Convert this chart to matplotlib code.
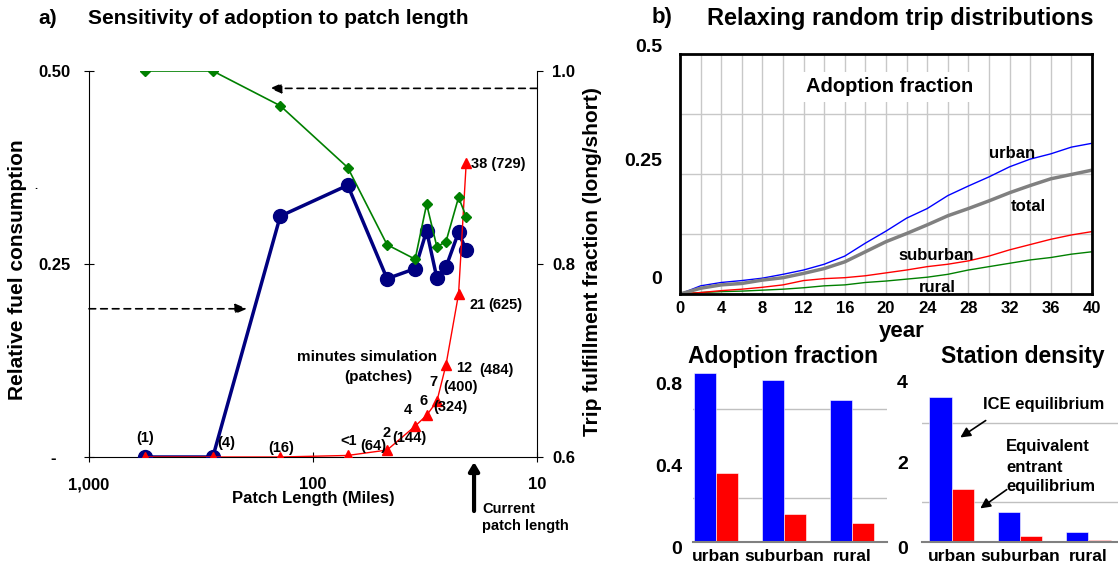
import matplotlib
matplotlib.use("Agg")
import matplotlib.pyplot as plt
from matplotlib.ticker import NullLocator
from matplotlib.transforms import ScaledTranslation

plt.rcParams["font.family"] = ["Liberation Sans", "DejaVu Sans"]
plt.rcParams["font.weight"] = "bold"

W, H = 1118, 569

# ---- panel a data ----
patch_length = [560, 280, 140, 70, 46.7, 35, 31.1, 28, 25.5, 22.4, 20.7]
fuel_consumption = [0, 0, 0.312, 0.352, 0.231, 0.244, 0.293, 0.232, 0.246, 0.291, 0.268]
trip_fulfillment = [1.0, 1.0, 0.964, 0.90, 0.820, 0.805, 0.862, 0.818, 0.823, 0.869, 0.849]
sim_minutes = [0, 0, 0, 0.2, 0.9, 4.0, 5.4, 7.2, 11.9, 21.1, 38.1]

# ---- panel b data ----
years = list(range(0, 41, 2))
urban = [0, 0.017, 0.024, 0.028, 0.033, 0.041, 0.050, 0.062, 0.079, 0.106, 0.131,
         0.158, 0.178, 0.205, 0.225, 0.244, 0.265, 0.281, 0.292, 0.306, 0.314]
total = [0, 0.012, 0.019, 0.022, 0.029, 0.034, 0.043, 0.053, 0.067, 0.088, 0.109,
         0.126, 0.144, 0.163, 0.178, 0.194, 0.211, 0.226, 0.240, 0.249, 0.258]
suburban = [0, 0.003, 0.007, 0.010, 0.014, 0.019, 0.028, 0.032, 0.034, 0.038, 0.044,
            0.050, 0.057, 0.062, 0.069, 0.079, 0.092, 0.103, 0.114, 0.123, 0.130]
rural = [0, 0.003, 0.005, 0.006, 0.008, 0.010, 0.013, 0.017, 0.019, 0.024, 0.027,
         0.031, 0.035, 0.041, 0.050, 0.057, 0.064, 0.071, 0.076, 0.083, 0.088]

regions = ["urban", "suburban", "rural"]
adoption_ice = [0.76, 0.728, 0.638]
adoption_entrant = [0.31, 0.126, 0.087]
density_ice = [3.67, 0.76, 0.25]
density_entrant = [1.34, 0.15, 0.04]

fig = plt.figure(figsize=(W / 100, H / 100), dpi=100)


def px_axes(l, t, r, b):
    return fig.add_axes([l / W, 1 - b / H, (r - l) / W, (b - t) / H])


def ftext(x, y, s, **kw):
    return fig.text(x / W, 1 - y / H, s, **kw)


def shift_labels(labels, shifts):
    # shifts in pixels, positive = down
    for lab, s in zip(labels, shifts):
        lab.set_transform(lab.get_transform() + ScaledTranslation(0, -s / 100, fig.dpi_scale_trans))


# ================= panel a =================
ax = px_axes(89, 71, 537, 457)
ax.set_xscale("log")
ax.set_xlim(1000, 10)
ax.set_ylim(0, 0.5)
ax.xaxis.set_minor_locator(NullLocator())
ax.set_xticks([1000, 100, 10], ["1,000", "100", "10"])
ax.set_yticks([0, 0.25, 0.5], ["-   ", "0.25", "0.50"])
ax.tick_params(axis="y", direction="inout", length=7, pad=10, labelsize=12)
ax.tick_params(axis="x", direction="inout", length=7, pad=11, labelsize=12)
for s in ["top", "right"]:
    ax.spines[s].set_visible(False)

ax2 = ax.twinx()
ax2.set_ylim(0.6, 1.0)
ax2.set_yticks([0.6, 0.8, 1.0], ["0.6", "0.8", "1.0"])
ax2.tick_params(axis="y", direction="out", length=4, pad=7, labelsize=12)
for s in ["top", "left", "bottom"]:
    ax2.spines[s].set_visible(False)

ax.plot(patch_length, fuel_consumption, color="#000080", lw=2.5, marker="o", ms=10, zorder=3)
ax.plot(patch_length, [m / 100 for m in sim_minutes], color="red", lw=1, marker="^", ms=7, zorder=4)
ax2.plot(patch_length, trip_fulfillment, color="#008000", lw=1.2, marker="D", ms=5)

# dashed arrows pointing at the axes
ax2.annotate("", xy=(156, 0.982), xytext=(1.0, 0.982),
             textcoords=ax2.get_yaxis_transform(),
             arrowprops=dict(arrowstyle="-|>,head_length=0.7,head_width=0.3", color="k",
                             lw=1.2, linestyle=(0, (4, 3)), shrinkA=0, shrinkB=0))
ax.annotate("", xy=(197, 0.192), xytext=(0.0, 0.192),
            textcoords=ax.get_yaxis_transform(),
            arrowprops=dict(arrowstyle="-|>,head_length=0.7,head_width=0.3", color="k",
                            lw=1.2, linestyle=(0, (4, 3)), shrinkA=0, shrinkB=0))

# current patch length arrow
ax.annotate("", xy=(19.1, -0.013), xycoords=ax.get_xaxis_transform(),
            xytext=(19.1, -0.14), textcoords=ax.get_xaxis_transform(),
            arrowprops=dict(arrowstyle="-|>,head_length=0.5,head_width=0.3", color="k",
                            lw=3, shrinkA=0, shrinkB=0), annotation_clip=False)
ftext(482, 509, "Current", fontsize=10.5, va="center")
ftext(482, 526, "patch length", fontsize=10.5, va="center")

# point labels
lab_kw = dict(fontsize=10.5, ha="center", va="center")
for x, y, s in [(145, 438, "(1)"), (226, 443, "(4)"), (281, 448, "(16)"),
                (349, 441, "<1"), (373, 446, "(64)"), (387, 433, "2"), (409, 438, "(144)"),
                (408, 410, "4"), (424, 401, "6"), (450, 407, "(324)"),
                (433, 382, "7"), (461, 387, "(400)"), (464, 368, "12"), (496, 370, "(484)"),
                (478, 305, "21"), (505, 305, "(625)"), (498, 164, "38 (729)")]:
    ftext(x, y, s, **lab_kw)
ftext(367, 357, "minutes simulation", fontsize=11, ha="center", va="center")
ftext(378, 377, "(patches)", fontsize=11, ha="center", va="center")

ftext(313, 498, "Patch Length (Miles)", fontsize=12, ha="center", va="center")
ftext(18, 270, "Relative fuel consumption", fontsize=15, rotation=90, ha="center", va="center")
ftext(36, 186, ".", fontsize=8, ha="center", va="center")
ftext(592, 262, "Trip fulfillment fraction (long/short)", fontsize=15, rotation=90,
      ha="center", va="center")

ftext(38, 18, "a)", fontsize=15, va="center")
ftext(88, 18, "Sensitivity of adoption to patch length", fontsize=15, va="center")
ftext(652, 18, "b)", fontsize=16, va="center")
ftext(707, 18, "Relaxing random trip distributions", fontsize=17, va="center")

# ================= panel b: time series =================
bx = px_axes(680, 54, 1092, 294)
bx.set_xlim(0, 40)
bx.set_ylim(0, 0.5)
bx.set_xticks(range(0, 41, 4))
bx.set_xticks(range(0, 41, 2), minor=True)
bx.set_yticks([0, 0.25, 0.5], ["0", "0.25", "0.5"])
bx.set_yticks([0.125, 0.375], minor=True)
bx.grid(which="both", color="#c8c8c8", lw=1)
bx.tick_params(which="both", length=0)
bx.tick_params(axis="x", labelsize=12, pad=5)
bx.tick_params(axis="y", labelsize=14, pad=13)
for s in bx.spines.values():
    s.set_linewidth(2)
shift_labels(bx.get_yticklabels(), [-17, -14, -9])

bx.plot(years, rural, color="#008000", lw=1)
bx.plot(years, suburban, color="red", lw=1)
bx.plot(years, urban, color="blue", lw=1)
bx.plot(years, total, color="#808080", lw=2.5)

ftext(890, 87, "Adoption fraction", fontsize=14.5, ha="center", va="center",
      bbox=dict(facecolor="white", edgecolor="none", pad=4))
ftext(1012, 154, "urban", fontsize=12, ha="center", va="center")
ftext(1028, 206, "total", fontsize=12, ha="center", va="center")
ftext(936, 255, "suburban", fontsize=12, ha="center", va="center")
ftext(937, 287, "rural", fontsize=12, ha="center", va="center")
ftext(902, 332, "year", fontsize=16, ha="center", va="center")

# ================= panel b: bar charts =================
xpos = list(range(len(regions)))
bw = 0.33


def bar_panel(a, ice, entrant, ymax, major, minor, labels, shifts, ypad):
    a.bar([p - bw / 2 for p in xpos], ice, width=bw, color="blue", edgecolor="white", lw=0.4)
    a.bar([p + bw / 2 for p in xpos], entrant, width=bw, color="red", edgecolor="white", lw=0.4)
    a.set_ylim(0, ymax)
    a.set_yticks(major, labels)
    a.set_yticks(minor, minor=True)
    a.grid(axis="y", which="minor", color="#c0c0c0", lw=1)
    a.set_axisbelow(True)
    a.set_xticks(xpos, regions)
    a.tick_params(which="both", length=0)
    a.tick_params(axis="x", labelsize=12.5, pad=5)
    a.tick_params(axis="y", labelsize=14, pad=ypad)
    for s in ["top", "left", "right"]:
        a.spines[s].set_visible(False)
    a.spines["bottom"].set_color("#808080")
    a.spines["bottom"].set_linewidth(1.5)
    shift_labels(a.get_yticklabels(), shifts)


cx = px_axes(693, 364, 887, 542)
cx.set_xlim(-0.338, 2.515)
bar_panel(cx, adoption_ice, adoption_entrant, 0.8, [0, 0.4, 0.8], [0.2, 0.4, 0.6],
          ["0", "0.4", "0.8"], [5, 12, 19], 8)

dx = px_axes(922, 376, 1118, 542)
dx.set_xlim(-0.44, 2.44)
bar_panel(dx, density_ice, density_entrant, 4.2, [0, 2, 4], [1, 2, 3],
          ["0", "2", "4"], [5, 0, -2], 10)

ftext(783, 357, "Adoption fraction", fontsize=16.5, ha="center", va="center")
ftext(1023, 357, "Station density", fontsize=16.5, ha="center", va="center")

ftext(983, 405, "ICE equilibrium", fontsize=12, va="center")
ftext(1006, 447, "Equivalent", fontsize=12, va="center")
ftext(1006, 467, "entrant", fontsize=12, va="center")
ftext(1006, 487, "equilibrium", fontsize=12, va="center")
fig.add_artist(matplotlib.patches.FancyArrowPatch(
    (988 / W, 1 - 419 / H), (958 / W, 1 - 439 / H), transform=fig.transFigure,
    arrowstyle="-|>,head_length=6,head_width=3", color="k", lw=1.2))
fig.add_artist(matplotlib.patches.FancyArrowPatch(
    (1009 / W, 1 - 488 / H), (978 / W, 1 - 510 / H), transform=fig.transFigure,
    arrowstyle="-|>,head_length=6,head_width=3", color="k", lw=1.2))

fig.savefig("out.png", dpi=100)
